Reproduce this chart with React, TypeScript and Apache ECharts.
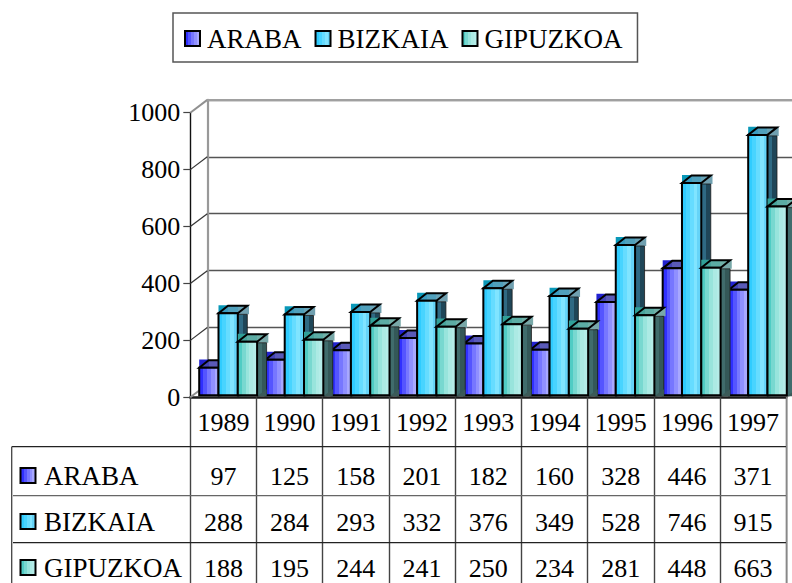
import React, { useEffect, useRef } from "react";
import * as echarts from "echarts";

const years = ["1989", "1990", "1991", "1992", "1993", "1994", "1995", "1996", "1997"];
const seriesNames = ["ARABA", "BIZKAIA", "GIPUZKOA"];
const araba = [97, 125, 158, 201, 182, 160, 328, 446, 371];
const bizkaia = [288, 284, 293, 332, 376, 349, 528, 746, 915];
const gipuzkoa = [188, 195, 244, 241, 250, 234, 281, 448, 663];
const yTicks = [0, 200, 400, 600, 800, 1000];

const FONT = '"Liberation Serif", "Times New Roman", serif';

function stepped(colors: string[]) {
  const stops: { offset: number; color: string }[] = [];
  colors.forEach((c, i) => {
    stops.push({ offset: i / colors.length, color: c });
    stops.push({ offset: (i + 1) / colors.length, color: c });
  });
  return new echarts.graphic.LinearGradient(0, 0, 1, 0, stops);
}

const palettes = [
  {
    front: ["#3030ff", "#5555ff", "#7777ff", "#9090ff", "#a8a8ff"],
    top: ["#4444b8", "#5a5ab8", "#6c6cb4"],
    side: ["#34348a", "#242470"],
    cornerL: "#2222d0",
    cornerR: "#7070a8",
  },
  {
    front: ["#30ccff", "#48d4ff", "#66dcff", "#80e4ff", "#66d4f8"],
    top: ["#3a9cc0", "#50a0bc", "#68a4b8"],
    side: ["#2f6a84", "#1f4658"],
    cornerL: "#0a98b8",
    cornerR: "#70a0b0",
  },
  {
    front: ["#50ccc4", "#78d8d0", "#98e4dc", "#aceae4", "#b4ece8"],
    top: ["#48a49c", "#5cacA4", "#70b0a8"],
    side: ["#406c6c", "#345858"],
    cornerL: "#30a098",
    cornerR: "#78a8a8",
  },
];

const BAR_W = 19.3;
const GROUP_PAD = 8.9;
const DX = 9.5;
const DY = 7.5;
const CORNER_EXTRA = 1.7;
const LIFT = 2;

function barRenderer(s: number) {
  return (params: any, api: any) => {
    const cat = api.value(0);
    const val = api.value(1);
    const band = api.size([1, 0])[0];
    const [cx, yv] = api.coord([cat, val]);
    const [, y0] = api.coord([cat, 0]);
    const p = palettes[s];
    const xl = cx - band / 2 + GROUP_PAD + s * BAR_W;
    const xr = xl + BAR_W;
    const yt = yv - LIFT;
    const yb = y0 - LIFT;
    return {
      type: "group",
      children: [
        {
          type: "polygon",
          shape: { points: [[xl, yt], [xl, yt - DY - 0.6], [xl + DX, yt - DY - 0.6]] },
          style: { fill: p.cornerL },
        },
        {
          type: "polygon",
          shape: { points: [[xr, yt + 1], [xr + DX + CORNER_EXTRA, yt + 1], [xr + DX + CORNER_EXTRA, yt - DY - 0.6], [xr + DX, yt - DY - 0.6]] },
          style: { fill: p.cornerR },
        },
        {
          type: "polygon",
          shape: { points: [[xr, yt + 1], [xr + DX, yt + 1], [xr + DX, yb - 1], [xr, yb + 1]] },
          style: { fill: stepped(p.side), stroke: "#1c1c1c", lineWidth: 0.8 },
        },
        {
          type: "polygon",
          shape: { points: [[xr, yb + 1], [xr + DX, yb + 1], [xr + DX, yb - 6]] },
          style: { fill: "#3b5a58" },
        },
        {
          type: "polygon",
          shape: { points: [[xl, yt], [xl + DX, yt - DY], [xr + DX, yt - DY], [xr, yt]] },
          style: { fill: stepped(p.top), stroke: "#000", lineWidth: 2, lineJoin: "miter" },
        },
        {
          type: "rect",
          shape: { x: xl, y: yt, width: BAR_W, height: yb - yt },
          style: { fill: stepped(p.front), stroke: "#000", lineWidth: 2 },
        },
      ],
    };
  };
}

const wallRenderer = (params: any, api: any) => {
  const tick = api.value(0);
  const [, yf] = api.coord([0, tick]);
  const left = params.coordSys.x;
  const children: any[] = [
    {
      type: "line",
      shape: { x1: left, y1: yf, x2: left + 17, y2: yf - 12.8 },
      style: { stroke: tick === 0 || tick === 1000 ? "#909090" : "#333", lineWidth: tick === 0 || tick === 1000 ? 2 : 1.2 },
    },
  ];
  if (tick === 1000) {
    children.push({
      type: "line",
      shape: { x1: left + 17, y1: yf - 12.8, x2: 792, y2: yf - 12.8 },
      style: { stroke: "#a0a0a0", lineWidth: 2 },
    });
  }
  return { type: "group", children };
};

const rowBaselines = [484, 530, 576];

const tableRenderer = (params: any, api: any) => {
  const [x] = api.coord([api.value(0), 0]);
  return {
    type: "text",
    style: {
      text: String(api.value(2)),
      x,
      y: rowBaselines[api.value(1)] - 8,
      align: "center",
      verticalAlign: "middle",
      font: `26px ${FONT}`,
      fill: "#000",
    },
  };
};

function legendIcon(s: number) {
  return {
    name: seriesNames[s],
    icon: "rect",
    itemStyle: { color: stepped(palettes[s].front), borderColor: "#000", borderWidth: 2 },
  };
}

const values = [araba, bizkaia, gipuzkoa];

export default function App() {
  const ref = useRef<HTMLDivElement>(null);
  useEffect(() => {
    const chart = echarts.init(ref.current!, undefined, { renderer: "svg", width: 792, height: 583 });
    const tableRows = [446.7, 495.7, 542.7];
    const option: any = {
      animation: false,
      backgroundColor: "#fff",
      legend: {
        show: true,
        data: [legendIcon(0), legendIcon(1), legendIcon(2)],
        left: 173,
        top: 13,
        orient: "horizontal",
        itemWidth: 15,
        itemHeight: 15,
        itemGap: 13,
        padding: [12, 15, 10, 11],
        borderColor: "#555",
        borderWidth: 1.5,
        selectedMode: false,
        textStyle: { fontFamily: FONT, fontSize: 27, color: "#000", padding: [0, 0, 2, 2] },
      },
      grid: [
        { left: 190.3, top: 112.7, width: 595.9, height: 284.6, containLabel: false },
        { left: 207.3, top: 99.9, width: 584.7, height: 284.6, containLabel: false },
      ],
      xAxis: [
        {
          type: "category",
          gridIndex: 0,
          data: years,
          axisLine: { lineStyle: { color: "#1a1a1a", width: 2.5 } },
          axisTick: { show: true, length: 186, lineStyle: { color: "#444", width: 1.4 } },
          axisLabel: { fontFamily: FONT, fontSize: 26, color: "#000", margin: 12, interval: 0 },
        },
        { type: "category", gridIndex: 1, data: years, show: false },
      ],
      yAxis: [
        {
          type: "value",
          gridIndex: 0,
          min: 0,
          max: 1000,
          interval: 200,
          axisLine: { show: true, lineStyle: { color: "#111", width: 1.4 } },
          axisTick: { show: true, length: 7, lineStyle: { color: "#444", width: 1.2 } },
          axisLabel: { fontFamily: FONT, fontSize: 26, color: "#000", margin: 10, formatter: (v: number) => String(v) },
          splitLine: { show: false },
        },
        {
          type: "value",
          gridIndex: 1,
          min: 0,
          max: 1000,
          interval: 200,
          axisLine: { show: true, lineStyle: { color: "#999", width: 2.2 } },
          axisTick: { show: false },
          axisLabel: { show: false },
          splitLine: { show: true, lineStyle: { color: "#555", width: 1.3 } },
        },
      ],
      series: [
        {
          type: "custom",
          name: "walls",
          xAxisIndex: 0,
          yAxisIndex: 0,
          z: 1,
          silent: true,
          renderItem: wallRenderer,
          data: yTicks.map((t) => [t]),
          encode: { y: 0 },
        },
        ...seriesNames.map((name, s) => ({
          type: "custom",
          name,
          xAxisIndex: 0,
          yAxisIndex: 0,
          z: 2 + s,
          renderItem: barRenderer(s),
          data: values[s].map((v, i) => [i, v]),
          encode: { x: 0, y: 1 },
          itemStyle: { color: palettes[s].front[1] },
        })),
        {
          type: "custom",
          name: "table",
          xAxisIndex: 0,
          yAxisIndex: 0,
          z: 6,
          silent: true,
          renderItem: tableRenderer,
          data: values.flatMap((row, r) => row.map((v, i) => [i, r, v])),
          encode: { x: 0 },
        },
      ],
      graphic: [
        ...tableRows.map((y, i) => ({
          type: "line",
          shape: { x1: i === 0 ? 11.7 : 13, y1: y, x2: 786.7, y2: y },
          style: { stroke: i === 1 ? "#666" : "#222", lineWidth: 1.3 },
          z: 10,
        })),
        {
          type: "line",
          shape: { x1: 11.7, y1: 446.7, x2: 11.7, y2: 583 },
          style: { stroke: "#444", lineWidth: 1.3 },
          z: 10,
        },
        {
          type: "line",
          shape: { x1: 786.7, y1: 397, x2: 786.7, y2: 583 },
          style: { stroke: "#888", lineWidth: 1.5 },
          z: 10,
        },
        ...seriesNames.flatMap((name, r) => [
          {
            type: "rect",
            shape: { x: 20.5, y: rowBaselines[r] - 16, width: 15, height: 15 },
            style: { fill: stepped(palettes[r].front), stroke: "#000", lineWidth: 2 },
            z: 10,
          },
          {
            type: "text",
            x: 44,
            y: rowBaselines[r] - 8,
            style: { text: name, font: `27px ${FONT}`, fill: "#000", verticalAlign: "middle", align: "left" },
            z: 10,
          },
        ]),
      ],
    };
    chart.setOption(option);
    return () => chart.dispose();
  }, []);
  return <div ref={ref} style={{ position: "fixed", left: 0, top: 0, width: 792, height: 583 }} />;
}
